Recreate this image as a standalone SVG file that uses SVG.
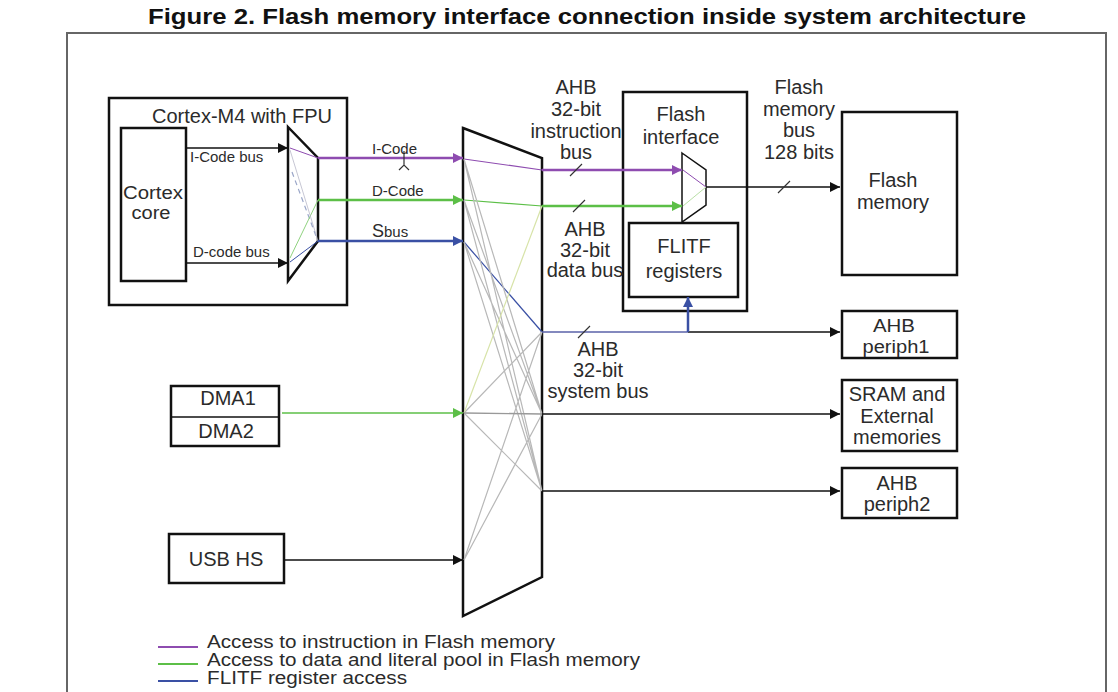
<svg xmlns="http://www.w3.org/2000/svg" width="1118" height="692" viewBox="0 0 1118 692">
<style>
text{font-family:"Liberation Sans",Arial,sans-serif;fill:#2b2b2b;font-size:20px}
.c{text-anchor:middle}
.s{font-size:15px}
.box{fill:#fff;stroke:#111;stroke-width:2.5}
.thin{fill:none;stroke:#111;stroke-width:1.5}
.blk{stroke:#111;stroke-width:1.5;fill:none}
.pur{stroke:#8e4cb0;stroke-width:2.5;fill:none}
.grn{stroke:#5cbf47;stroke-width:2.5;fill:none}
.blu{stroke:#3a50a4;stroke-width:2.5;fill:none}
.gry{stroke:#b8b8b8;stroke-width:1.2;fill:none}
.sl{stroke:#333;stroke-width:1.2}
.lg{font-size:17.5px}
</style>
<defs>
<marker id="ab" viewBox="0 0 10 10" refX="10" refY="5" markerWidth="10" markerHeight="10" markerUnits="userSpaceOnUse" orient="auto"><path d="M0,0 L10,5 L0,10 z" fill="#111"/></marker>
<marker id="ap" viewBox="0 0 10 10" refX="10" refY="5" markerWidth="10" markerHeight="10" markerUnits="userSpaceOnUse" orient="auto"><path d="M0,0 L10,5 L0,10 z" fill="#8e4cb0"/></marker>
<marker id="ag" viewBox="0 0 10 10" refX="10" refY="5" markerWidth="10" markerHeight="10" markerUnits="userSpaceOnUse" orient="auto"><path d="M0,0 L10,5 L0,10 z" fill="#5cbf47"/></marker>
<marker id="au" viewBox="0 0 10 10" refX="10" refY="5" markerWidth="10" markerHeight="10" markerUnits="userSpaceOnUse" orient="auto"><path d="M0,0 L10,5 L0,10 z" fill="#3a50a4"/></marker>
</defs>
<rect width="1118" height="692" fill="#fff"/>
<text x="587" y="24" class="c" style="font-weight:bold;font-size:22px;fill:#111" textLength="878" lengthAdjust="spacingAndGlyphs">Figure 2. Flash memory interface connection inside system architecture</text>
<path d="M67,700 V33 H1106 V700" fill="none" stroke="#666" stroke-width="2"/>

<g id="cortex-m4">
<rect class="box" x="109" y="98" width="238" height="207"/>
<text x="242" y="123" class="c">Cortex-M4 with FPU</text>
</g>
<g id="cortex-core">
<rect class="box" x="121" y="128" width="65" height="153"/>
<text x="153" y="199" class="c" style="font-size:18px" textLength="60" lengthAdjust="spacingAndGlyphs">Cortex</text>
<text x="151" y="219" class="c" style="font-size:18px" textLength="39" lengthAdjust="spacingAndGlyphs">core</text>
</g>
<g id="cpu-mux">
<path class="box" d="M288,127 L318,158 L318,241 L288,281 Z"/>
<path d="M290,148 L318,158" stroke="#8e4cb0" stroke-width="1" fill="none"/>
<path d="M292,172 L316,236" stroke="#9aa6c8" stroke-width="1.2" stroke-dasharray="5,4" fill="none"/>
<path d="M290,258 L318,200" stroke="#8fd27f" stroke-width="1" fill="none"/>
<path d="M290,262 L318,241" stroke="#3a50a4" stroke-width="1" fill="none"/>
<path d="M290,150 L318,241" stroke="#b8b8c8" stroke-width="0.8" fill="none"/>
</g>
<g id="bus-matrix">
<path class="box" d="M463,128 L542,158 L542,577 L463,616 Z"/>
<path d="M464,159 L542,170" stroke="#8e4cb0" stroke-width="1.2" fill="none"/>
<path d="M464,200 L542,206" stroke="#5cbf47" stroke-width="1.2" fill="none"/>
<path d="M464,242 L542,332" stroke="#3a50a4" stroke-width="1.2" fill="none"/>
<path class="gry" d="M464,159 L542,414 M464,159 L542,491 M464,200 L542,414 M464,200 L542,491 M464,242 L542,414 M464,242 L542,491 M464,413 L542,332 M464,413 L542,491 M464,560 L542,332 M464,560 L542,414"/>
<path d="M464,413 L542,206" stroke="#d7e3a8" stroke-width="1.2" fill="none"/>
<path d="M464,413 L542,414" stroke="#999" stroke-width="1.4" fill="none"/>
</g>
<g id="flash-interface">
<rect class="box" x="623" y="92" width="124" height="219"/>
<text x="681" y="121" class="c">Flash</text>
<text x="681" y="144" class="c">interface</text>
</g>
<g id="flitf-registers">
<rect class="box" x="629" y="223" width="109" height="74"/>
<text x="684" y="253" class="c">FLITF</text>
<text x="684" y="278" class="c">registers</text>
</g>
<g id="flash-mux">
<path class="thin" d="M682,153 L706,170 L706,205 L682,222 Z" style="fill:#fff"/>
<path d="M683,170 L706,187" stroke="#8e4cb0" stroke-width="1" fill="none"/>
<path d="M683,206 L706,187" stroke="#b9dfa6" stroke-width="1" fill="none"/>
</g>
<g id="flash-memory">
<rect class="box" x="842" y="112" width="115" height="163"/>
<text x="893" y="187" class="c">Flash</text>
<text x="893" y="209" class="c">memory</text>
</g>
<g id="ahb-periph1">
<rect class="box" x="842" y="311" width="115" height="47"/>
<text x="894" y="332" class="c" style="font-size:18px" textLength="42" lengthAdjust="spacingAndGlyphs">AHB</text>
<text x="896" y="353" class="c" style="font-size:18px" textLength="67" lengthAdjust="spacingAndGlyphs">periph1</text>
</g>
<g id="sram">
<rect class="box" x="842" y="380" width="115" height="71"/>
<text x="897" y="401" class="c">SRAM and</text>
<text x="897" y="423" class="c">External</text>
<text x="897" y="444" class="c">memories</text>
</g>
<g id="ahb-periph2">
<rect class="box" x="842" y="468" width="115" height="50"/>
<text x="897" y="490" class="c">AHB</text>
<text x="897" y="511" class="c">periph2</text>
</g>
<g id="dma">
<rect class="box" x="171" y="386" width="108" height="60"/>
<line x1="171" y1="417" x2="279" y2="417" stroke="#111" stroke-width="1.5"/>
<text x="228" y="405" class="c">DMA1</text>
<text x="226" y="438" class="c">DMA2</text>
</g>
<g id="usb-hs">
<rect class="box" x="169" y="534" width="115" height="49"/>
<text x="226" y="566" class="c">USB HS</text>
</g>

<g id="connectors">
<line class="blk" x1="186" y1="148" x2="288" y2="148" marker-end="url(#ab)"/>
<line class="blk" x1="186" y1="263" x2="288" y2="263" marker-end="url(#ab)"/>
<line class="pur" x1="318" y1="158" x2="463" y2="158" marker-end="url(#ap)"/>
<line class="grn" x1="318" y1="200" x2="463" y2="200" marker-end="url(#ag)"/>
<line class="blu" x1="318" y1="241" x2="463" y2="241" marker-end="url(#au)"/>
<path d="M404,151 V165 M399,170 L404,165 L409,170" stroke="#333" stroke-width="1.2" fill="none"/>
<line stroke="#5cbf47" stroke-width="1.5" x1="282" y1="413" x2="463" y2="413" marker-end="url(#ag)"/>
<line class="blk" x1="284" y1="560" x2="463" y2="560" marker-end="url(#ab)"/>
<line class="pur" x1="542" y1="170" x2="682" y2="170" marker-end="url(#ap)"/>
<line class="grn" x1="542" y1="206" x2="682" y2="206" marker-end="url(#ag)"/>
<line class="blk" x1="706" y1="187" x2="840" y2="187" marker-end="url(#ab)"/>
<line stroke="#5a62a8" stroke-width="1.5" x1="542" y1="332" x2="688" y2="332"/>
<line class="blk" x1="688" y1="332" x2="840" y2="332" marker-end="url(#ab)"/>
<line class="blu" x1="688" y1="332" x2="688" y2="297" marker-end="url(#au)"/>
<line class="blk" x1="542" y1="414" x2="840" y2="414" marker-end="url(#ab)"/>
<line class="blk" x1="542" y1="491" x2="840" y2="491" marker-end="url(#ab)"/>
<path class="sl" d="M570,176 L582,164 M573,212 L585,200 M578,338 L590,326 M778,193 L790,181"/>
</g>

<g id="labels">
<text x="190" y="162" class="s">I-Code bus</text>
<text x="193" y="257" class="s">D-code bus</text>
<text x="372" y="154" class="s">I-Code</text>
<text x="372" y="196" class="s">D-Code</text>
<text x="372" y="237" style="font-size:18px">S<tspan style="font-size:15px">bus</tspan></text>
<text x="576" y="94" class="c">AHB</text>
<text x="576" y="116" class="c">32-bit</text>
<text x="576" y="138" class="c">instruction</text>
<text x="576" y="159" class="c">bus</text>
<text x="585" y="236" class="c">AHB</text>
<text x="585" y="257" class="c">32-bit</text>
<text x="585" y="277" class="c">data bus</text>
<text x="598" y="356" class="c">AHB</text>
<text x="598" y="377" class="c">32-bit</text>
<text x="598" y="398" class="c">system bus</text>
<text x="799" y="94" class="c">Flash</text>
<text x="799" y="116" class="c">memory</text>
<text x="799" y="137" class="c">bus</text>
<text x="799" y="159" class="c">128 bits</text>
</g>

<g id="legend">
<line x1="158" y1="647" x2="198" y2="647" stroke="#8e4cb0" stroke-width="2"/>
<line x1="158" y1="664" x2="198" y2="664" stroke="#5cbf47" stroke-width="2"/>
<line x1="158" y1="681" x2="198" y2="681" stroke="#3a50a4" stroke-width="2"/>
<text x="207" y="648" class="lg" textLength="348" lengthAdjust="spacingAndGlyphs">Access to instruction in Flash memory</text>
<text x="207" y="666" class="lg" textLength="433" lengthAdjust="spacingAndGlyphs">Access to data and literal pool in Flash memory</text>
<text x="207" y="684" class="lg" textLength="200" lengthAdjust="spacingAndGlyphs">FLITF register access</text>
</g>
</svg>
